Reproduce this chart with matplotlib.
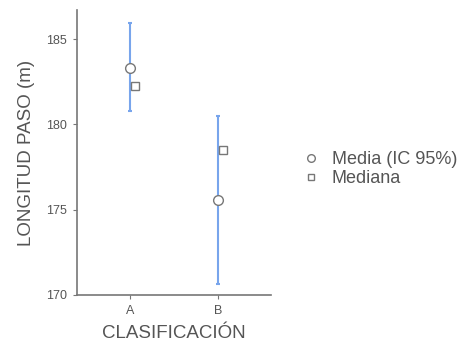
import numpy as np
import matplotlib
matplotlib.use("Agg")
import matplotlib.pyplot as plt
from matplotlib.lines import Line2D

grupos = ["A", "B"]
media = [183.3, 175.57]
ic_inf = [180.78, 170.65]
ic_sup = [185.95, 180.5]
mediana = [182.25, 178.5]

gris = "#777777"
texto = "#555555"
azul = "#78a5ec"

plt.rcParams['font.family'] = ['Liberation Sans', 'DejaVu Sans']

fig = plt.figure(figsize=(4.6, 3.49), dpi=100)
ax = fig.add_axes([0.167, 0.155, 0.422, 0.816])

x = np.arange(len(grupos))
media = np.array(media)
yerr = [media - np.array(ic_inf), np.array(ic_sup) - media]
ax.errorbar(x, media, yerr=yerr, fmt='none', ecolor=azul, elinewidth=1.5,
            capsize=1.5, capthick=1.5, zorder=2)
ax.plot(x, media, 'o', ms=7, mfc='white', mec=gris, mew=1, zorder=3)
ax.plot(x + 0.06, mediana, 's', ms=6, mfc='white', mec=gris, mew=1, zorder=3)

ax.set_xlim(-0.6, 1.6)
ax.set_ylim(170, 186.7)
ax.set_xticks(x)
ax.set_xticklabels(grupos)
ax.set_yticks([170, 175, 180, 185])
for s in ['top', 'right']:
    ax.spines[s].set_visible(False)
for s in ['left', 'bottom']:
    ax.spines[s].set_color(gris)
    ax.spines[s].set_linewidth(1.2)
ax.tick_params(colors=gris, labelcolor=texto, labelsize=9, length=3, pad=4)
ax.set_xlabel("CLASIFICACIÓN", color=texto, fontsize=13.5, labelpad=6)
ax.set_ylabel("LONGITUD PASO (m)", color=texto, fontsize=13.5, labelpad=8)

h = [Line2D([], [], ls='none', marker='o', ms=5.5, mfc='white', mec=gris),
     Line2D([], [], ls='none', marker='s', ms=5, mfc='white', mec=gris)]
leg = fig.legend(h, ["Media (IC 95%)", "Mediana"], loc='center left',
                 bbox_to_anchor=(0.625, 0.515), frameon=False, fontsize=13,
                 handlelength=0.8, handletextpad=0.75, labelspacing=0.12)
for t in leg.get_texts():
    t.set_color(texto)

fig.savefig("out.png", dpi=100)
